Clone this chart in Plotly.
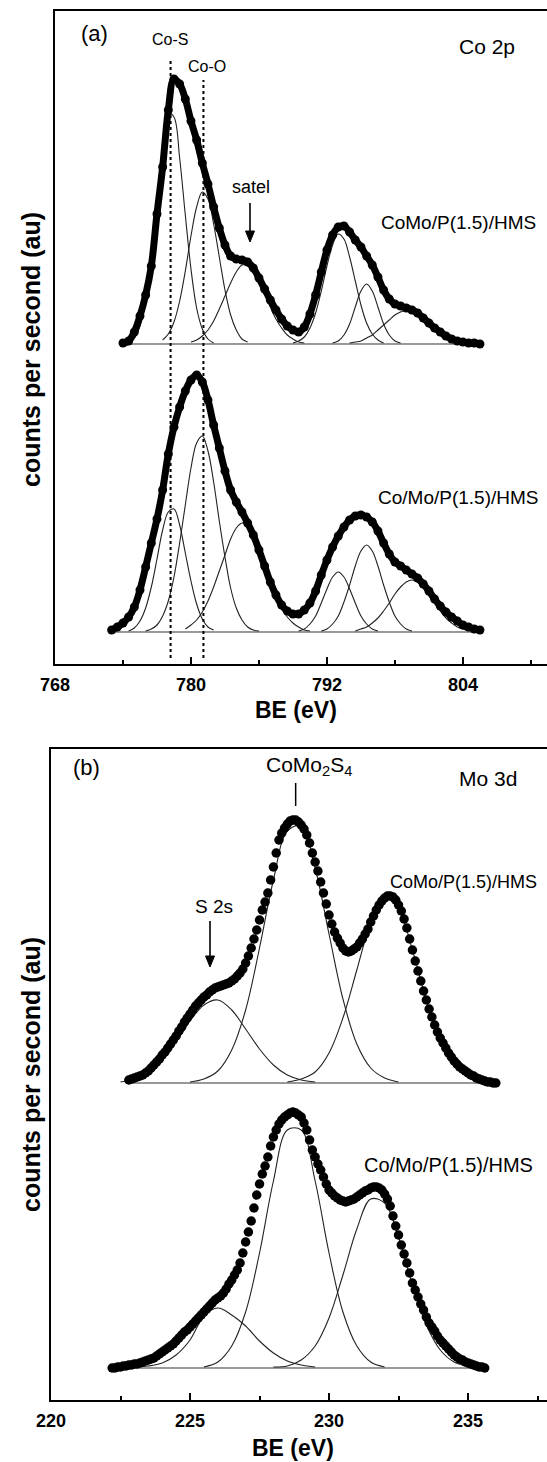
import plotly.graph_objects as go

W, H = 547, 1462
FONT = "Liberation Sans, Arial, sans-serif"

# ---------------- Panel (a): Co 2p ----------------
CO_TOP_E = [774.0, 774.5, 775.0, 775.5, 776.0, 776.5, 777.0, 777.5, 778.0, 778.5,
            779.0, 779.5, 780.0, 780.5, 781.0, 781.5, 782.0, 782.5, 783.0, 783.5,
            784.0, 784.5, 785.0, 785.5, 786.0, 786.5, 787.0, 787.5, 788.0, 788.5,
            789.0, 789.5, 790.0, 790.5, 791.0, 791.5, 792.0, 792.5, 793.0, 793.5,
            794.0, 794.5, 795.0, 795.5, 796.0, 796.5, 797.0, 797.5, 798.0, 798.5,
            799.0, 799.5, 800.0, 800.5, 801.0, 801.5, 802.0, 802.5, 803.0, 803.5,
            804.0, 804.5, 805.0, 805.5]
CO_TOP_I = [1, 3, 12, 28, 49, 78, 130, 177, 234, 265,
            260, 245, 223, 204, 181, 160, 137, 116, 99, 88,
            85, 84, 82, 76, 66, 55, 44, 34, 25, 18,
            14, 12, 17, 30, 49, 72, 94, 109, 117, 118,
            112, 104, 97, 88, 79, 67, 54, 45, 40, 38,
            36, 34, 31, 26, 21, 16, 12, 8, 5, 3,
            2, 1, 1, 0]
CO_BOT_E = [773.0, 773.5] + CO_TOP_E
CO_BOT_I = [2, 5, 9, 15, 25, 42, 65, 89, 113, 142,
            178, 205, 225, 241, 252, 257, 250, 232, 207, 184,
            161, 142, 130, 120, 109, 97, 82, 66, 50, 37,
            27, 21, 18, 18, 22, 29, 41, 57, 72, 85,
            96, 105, 112, 116, 117, 115, 110, 101, 89, 78,
            70, 66, 62, 58, 54, 48, 41, 33, 26, 20,
            15, 11, 7, 5, 3, 2]

# fitted components, panel (a) upper spectrum
CO_T1_E = [774.5, 775.0, 775.5, 776.0, 776.5, 777.0, 777.5, 778.0, 778.5, 779.0, 779.5, 780.0, 780.5, 781.0, 781.5, 782.0]
CO_T1_I = [2, 6, 18, 42, 84, 140, 197, 231, 227, 186, 129, 75, 36, 15, 5, 1]
CO_T2_E = [777.5, 778.0, 778.5, 779.0, 779.5, 780.0, 780.5, 781.0, 781.5, 782.0, 782.5, 783.0, 783.5, 784.0, 784.5, 785.0]
CO_T2_I = [4, 10, 22, 43, 73, 108, 137, 152, 145, 120, 87, 54, 29, 14, 5, 2]
CO_T3_E = [780.0, 780.5, 781.0, 781.5, 782.0, 782.5, 783.0, 783.5, 784.0, 784.5, 785.0, 785.5, 786.0, 786.5, 787.0, 787.5, 788.0, 788.5, 789.0, 789.5, 790.0]
CO_T3_I = [2, 4, 8, 14, 23, 35, 48, 61, 72, 79, 79, 74, 64, 50, 37, 25, 16, 9, 5, 2, 1]
CO_T4_E = [789.0, 789.5, 790.0, 790.5, 791.0, 791.5, 792.0, 792.5, 793.0, 793.5, 794.0, 794.5, 795.0, 795.5, 796.0, 796.5, 797.0]
CO_T4_I = [1, 3, 7, 16, 31, 53, 78, 99, 110, 105, 87, 63, 39, 21, 10, 4, 1]
CO_T5_E = [792.5, 793.0, 793.5, 794.0, 794.5, 795.0, 795.5, 796.0, 796.5, 797.0, 797.5, 798.0, 798.5]
CO_T5_I = [1, 3, 9, 20, 37, 53, 60, 53, 37, 20, 9, 3, 1]
CO_T6_E = [794.0, 794.5, 795.0, 795.5, 796.0, 796.5, 797.0, 797.5, 798.0, 798.5, 799.0, 799.5, 800.0, 800.5, 801.0, 801.5, 802.0, 802.5, 803.0, 803.5, 804.0]
CO_T6_I = [1, 2, 3, 6, 9, 14, 19, 24, 29, 32, 34, 33, 30, 26, 21, 15, 11, 7, 4, 2, 1]

# fitted components, panel (a) lower spectrum
CO_B1_E = [774.5, 775.0, 775.5, 776.0, 776.5, 777.0, 777.5, 778.0, 778.5, 779.0, 779.5, 780.0, 780.5, 781.0, 781.5, 782.0]
CO_B1_I = [1, 4, 11, 24, 45, 73, 102, 120, 123, 107, 79, 51, 28, 13, 5, 2]
CO_B2_E = [776.0, 776.5, 777.0, 777.5, 778.0, 778.5, 779.0, 779.5, 780.0, 780.5, 781.0, 781.5, 782.0, 782.5, 783.0, 783.5, 784.0, 784.5, 785.0, 785.5, 786.0]
CO_B2_I = [1, 3, 7, 16, 31, 55, 89, 127, 164, 189, 196, 181, 150, 111, 75, 44, 24, 12, 5, 2, 1]
CO_B3_E = [779.5, 780.0, 780.5, 781.0, 781.5, 782.0, 782.5, 783.0, 783.5, 784.0, 784.5, 785.0, 785.5, 786.0, 786.5, 787.0, 787.5, 788.0, 788.5, 789.0, 789.5, 790.0, 790.5]
CO_B3_I = [3, 7, 12, 20, 31, 45, 61, 77, 93, 104, 109, 107, 98, 84, 68, 51, 36, 24, 15, 9, 5, 2, 1]
CO_B4_E = [789.5, 790.0, 790.5, 791.0, 791.5, 792.0, 792.5, 793.0, 793.5, 794.0, 794.5, 795.0, 795.5, 796.0, 796.5]
CO_B4_I = [1, 3, 8, 16, 29, 43, 55, 60, 55, 43, 29, 16, 8, 3, 1]
CO_B5_E = [791.5, 792.0, 792.5, 793.0, 793.5, 794.0, 794.5, 795.0, 795.5, 796.0, 796.5, 797.0, 797.5, 798.0, 798.5, 799.0, 799.5]
CO_B5_I = [1, 3, 8, 16, 30, 47, 66, 81, 87, 81, 66, 47, 30, 16, 8, 3, 1]
CO_B6_E = [794.5, 795.0, 795.5, 796.0, 796.5, 797.0, 797.5, 798.0, 798.5, 799.0, 799.5, 800.0, 800.5, 801.0, 801.5, 802.0, 802.5, 803.0, 803.5, 804.0, 804.5]
CO_B6_I = [1, 3, 5, 9, 14, 21, 29, 38, 45, 50, 52, 50, 45, 38, 29, 21, 14, 9, 5, 3, 1]

CO_REF_E = [778.2, 781.1]          # Co-S, Co-O
CO_TICKS = [768, 780, 792, 804]

# ---------------- Panel (b): Mo 3d ----------------
MO_E = [222.2, 222.3, 222.4, 222.5, 222.6, 222.7, 222.8, 222.9, 223.0, 223.1,
        223.2, 223.3, 223.4, 223.5, 223.6, 223.7, 223.8, 223.9, 224.0, 224.1,
        224.2, 224.3, 224.4, 224.5, 224.6, 224.7, 224.8, 224.9, 225.0, 225.1,
        225.2, 225.3, 225.4, 225.5, 225.6, 225.7, 225.8, 225.9, 226.0, 226.1,
        226.2, 226.3, 226.4, 226.5, 226.6, 226.7, 226.8, 226.9, 227.0, 227.1,
        227.2, 227.3, 227.4, 227.5, 227.6, 227.7, 227.8, 227.9, 228.0, 228.1,
        228.2, 228.3, 228.4, 228.5, 228.6, 228.7, 228.8, 228.9, 229.0, 229.1,
        229.2, 229.3, 229.4, 229.5, 229.6, 229.7, 229.8, 229.9, 230.0, 230.1,
        230.2, 230.3, 230.4, 230.5, 230.6, 230.7, 230.8, 230.9, 231.0, 231.1,
        231.2, 231.3, 231.4, 231.5, 231.6, 231.7, 231.8, 231.9, 232.0, 232.1,
        232.2, 232.3, 232.4, 232.5, 232.6, 232.7, 232.8, 232.9, 233.0, 233.1,
        233.2, 233.3, 233.4, 233.5, 233.6, 233.7, 233.8, 233.9, 234.0, 234.1,
        234.2, 234.3, 234.4, 234.5, 234.6, 234.7, 234.8, 234.9, 235.0, 235.1,
        235.2, 235.3, 235.4, 235.5, 235.6, 235.7, 235.8, 235.9, 236.0]
MO_TOP_E = MO_E[6:]        # 222.8 ... 236.0
MO_TOP_I = [3, 4, 5, 6, 7, 8, 10, 12, 15, 18,
            21, 24, 28, 31, 35, 39, 43, 47, 52, 56,
            61, 65, 69, 73, 77, 80, 83, 86, 88, 91,
            93, 95, 96, 97, 98, 99, 100, 102, 104, 107,
            110, 114, 120, 127, 135, 144, 153, 163, 173, 181,
            190, 203, 216, 230, 243, 250, 255, 259, 262, 263,
            263, 261, 258, 254, 248, 240, 230, 221, 212, 201,
            190, 179, 168, 159, 151, 145, 140, 135, 132, 131,
            132, 134, 136, 140, 144, 149, 154, 161, 167, 173,
            178, 182, 185, 187, 187, 186, 183, 178, 172, 164,
            155, 144, 133, 122, 112, 102, 92, 83, 74, 66,
            58, 51, 45, 40, 35, 30, 26, 22, 19, 16,
            14, 12, 10, 8, 7, 5, 4, 3, 2, 1,
            1, 0, 0]
MO_BOT_E = MO_E[:135]      # 222.2 ... 235.6
MO_BOT_I = [0, 0, 1, 1, 2, 2, 3, 3, 4, 4,
            5, 6, 7, 8, 9, 10, 12, 14, 16, 18,
            20, 22, 24, 27, 30, 33, 36, 38, 41, 44,
            47, 50, 53, 56, 59, 62, 65, 68, 70, 72,
            75, 79, 84, 88, 93, 98, 105, 115, 126, 136,
            147, 160, 173, 184, 194, 202, 211, 222, 231, 238,
            244, 248, 251, 253, 255, 256, 255, 253, 251, 245,
            238, 228, 218, 211, 204, 198, 191, 184, 178, 175,
            172, 170, 168, 167, 166, 167, 168, 169, 171, 173,
            175, 177, 178, 180, 181, 181, 180, 178, 174, 169,
            162, 152, 142, 133, 123, 114, 105, 95, 85, 78,
            71, 64, 58, 51, 45, 41, 37, 32, 28, 25,
            22, 19, 16, 13, 11, 9, 8, 6, 5, 4,
            3, 2, 1, 1, 0]

MO_T1_E = [222.5, 223.0, 223.5, 224.0, 224.5, 225.0, 225.5, 226.0, 226.5, 227.0, 227.5, 228.0, 228.5, 229.0, 229.5]
MO_T1_I = [1, 4, 11, 23, 41, 62, 78, 83, 73, 54, 34, 18, 8, 3, 1]
MO_T2_E = [225.0, 225.5, 226.0, 226.5, 227.0, 227.5, 228.0, 228.5, 229.0, 229.5, 230.0, 230.5, 231.0, 231.5, 232.0, 232.5]
MO_T2_I = [1, 4, 12, 33, 73, 135, 203, 252, 257, 215, 149, 84, 39, 15, 5, 1]
MO_T3_E = [228.5, 229.0, 229.5, 230.0, 230.5, 231.0, 231.5, 232.0, 232.5, 233.0, 233.5, 234.0, 234.5, 235.0, 235.5]
MO_T3_I = [1, 4, 11, 30, 65, 113, 160, 185, 174, 133, 83, 42, 17, 6, 1]

MO_B1_E = [223.0, 223.5, 224.0, 224.5, 225.0, 225.5, 226.0, 226.5, 227.0, 227.5, 228.0, 228.5, 229.0, 229.5]
MO_B1_I = [1, 2, 5, 13, 28, 52, 60, 53, 42, 27, 15, 7, 3, 1]
MO_B2_E = [225.5, 226.0, 226.5, 227.0, 227.5, 228.0, 228.5, 229.0, 229.5, 230.0, 230.5, 231.0, 231.5, 232.0]
MO_B2_I = [1, 6, 22, 56, 115, 187, 238, 238, 187, 115, 56, 22, 6, 1]
MO_B3_E = [228.0, 228.5, 229.0, 229.5, 230.0, 230.5, 231.0, 231.5, 232.0, 232.5, 233.0, 233.5, 234.0, 234.5, 235.0]
MO_B3_I = [1, 2, 8, 22, 50, 93, 139, 169, 165, 131, 83, 43, 18, 6, 2]

MO_REF_E = [228.8]                 # CoMo2S4
MO_TICKS = [220, 225, 230, 235]

X_TITLE = "BE (eV)"
Y_TITLE = "counts per second (au)"

# vertical offsets of stacked spectra (plot units)
OFF_A = (320, 32)
OFF_B = (317, 32)

fig = go.Figure()


def add_spectrum(xa, ya, E, I, off, comps, env_mode):
    fig.add_trace(go.Scatter(x=[E[0], E[-1]], y=[off, off], mode="lines",
                             line=dict(color="#333333", width=1.2),
                             xaxis=xa, yaxis=ya, hoverinfo="skip"))
    for ce, ci in comps:
        fig.add_trace(go.Scatter(x=ce, y=[off + v for v in ci], mode="lines",
                                 line=dict(color="#222222", width=1.1, shape="spline"),
                                 xaxis=xa, yaxis=ya, hoverinfo="skip"))
    if env_mode == "thick":
        fig.add_trace(go.Scatter(x=E, y=[off + v for v in I], mode="lines+markers",
                                 line=dict(color="black", width=7, shape="spline"),
                                 marker=dict(color="black", size=9),
                                 xaxis=xa, yaxis=ya))
    else:
        fig.add_trace(go.Scatter(x=E, y=[off + v for v in I], mode="markers",
                                 marker=dict(color="black", size=9.5),
                                 xaxis=xa, yaxis=ya))


add_spectrum("x", "y", CO_TOP_E, CO_TOP_I, OFF_A[0],
             [(CO_T1_E, CO_T1_I), (CO_T2_E, CO_T2_I), (CO_T3_E, CO_T3_I),
              (CO_T4_E, CO_T4_I), (CO_T5_E, CO_T5_I), (CO_T6_E, CO_T6_I)], "thick")
add_spectrum("x", "y", CO_BOT_E, CO_BOT_I, OFF_A[1],
             [(CO_B1_E, CO_B1_I), (CO_B2_E, CO_B2_I), (CO_B3_E, CO_B3_I),
              (CO_B4_E, CO_B4_I), (CO_B5_E, CO_B5_I), (CO_B6_E, CO_B6_I)], "thick")
add_spectrum("x2", "y2", MO_TOP_E, MO_TOP_I, OFF_B[0],
             [(MO_T1_E, MO_T1_I), (MO_T2_E, MO_T2_I), (MO_T3_E, MO_T3_I)], "dots")
add_spectrum("x2", "y2", MO_BOT_E, MO_BOT_I, OFF_B[1],
             [(MO_B1_E, MO_B1_I), (MO_B2_E, MO_B2_I), (MO_B3_E, MO_B3_I)], "dots")


def py2paper(py):
    return 1 - py / H


tickfont = dict(family=FONT, size=18, color="black", weight="bold")
common_x = dict(showline=True, linewidth=2, linecolor="black", mirror=True,
                ticks="inside", ticklen=7, tickwidth=1.5, tickcolor="black",
                showgrid=False, zeroline=False, tickfont=tickfont,
                ticklabelstandoff=3, automargin=False)
common_y = dict(showline=True, linewidth=2, linecolor="black", mirror=False,
                ticks="", showticklabels=False, showgrid=False, zeroline=False,
                automargin=False)

fig.update_layout(
    width=W, height=H, margin=dict(l=0, r=0, t=0, b=0),
    plot_bgcolor="white", paper_bgcolor="white", showlegend=False,
    xaxis=dict(domain=[55 / W, 1], range=[768, 811.42], anchor="y",
               tickvals=CO_TICKS, minor=dict(dtick=6, tick0=768, ticks="inside", ticklen=4,
                                             tickwidth=1.5, tickcolor="black"),
               **common_x),
    yaxis=dict(domain=[py2paper(664), py2paper(10.5)], range=[0, 653.5], anchor="x", **common_y),
    xaxis2=dict(domain=[51 / W, 1], range=[220, 237.84], anchor="y2",
                tickvals=MO_TICKS, minor=dict(dtick=2.5, tick0=220, ticks="inside", ticklen=4,
                                              tickwidth=1.5, tickcolor="black"),
                **common_x),
    yaxis2=dict(domain=[py2paper(1400), py2paper(749)], range=[0, 651], anchor="x2", **common_y),
)

# reference lines
for e, top in zip(CO_REF_E, [61, 80]):
    fig.add_shape(type="line", xref="x", yref="paper", x0=e, x1=e,
                  y0=py2paper(658), y1=py2paper(top),
                  line=dict(color="black", width=2, dash="dot"))
fig.add_shape(type="line", xref="x2", yref="paper", x0=MO_REF_E[0], x1=MO_REF_E[0],
              y0=py2paper(806), y1=py2paper(783), line=dict(color="black", width=1.5))


def txt(px, py, text, size, bold=False, angle=0):
    fig.add_annotation(x=px / W, y=py2paper(py), xref="paper", yref="paper",
                       text=text, showarrow=False, textangle=angle,
                       xanchor="center", yanchor="middle",
                       font=dict(family=FONT, size=size, color="black",
                                 weight="bold" if bold else "normal"))


def arrow(px, py_tail, py_head):
    fig.add_shape(type="line", xref="paper", yref="paper",
                  x0=px / W, x1=px / W, y0=py2paper(py_tail), y1=py2paper(py_head - 8),
                  line=dict(color="black", width=1.6))
    hx, hw = px / W, 4.5 / W
    fig.add_shape(type="path", xref="paper", yref="paper",
                  path=(f"M {hx - hw},{py2paper(py_head - 11)} L {hx + hw},{py2paper(py_head - 11)} "
                        f"L {hx},{py2paper(py_head)} Z"),
                  fillcolor="black", line=dict(color="black", width=1))


# panel (a) texts
txt(94, 33, "(a)", 22)
txt(170, 39, "Co-S", 16)
txt(207, 66, "Co-O", 16)
txt(487, 47, "Co 2p", 21)
txt(251, 187, "satel", 18)
arrow(250, 203, 242)
txt(458, 223, "CoMo/P(1.5)/HMS", 19)
txt(458, 497, "Co/Mo/P(1.5)/HMS", 19)
txt(296, 710, X_TITLE, 23, bold=True)
txt(31, 350, Y_TITLE, 25, bold=True, angle=-90)

# panel (b) texts
txt(86, 767, "(b)", 22)
txt(309, 766, "CoMo<sub>2</sub>S<sub>4</sub>", 21)
txt(488, 778, "Mo 3d", 21)
txt(214, 906, "S 2s", 19)
arrow(210, 921, 967)
txt(463, 882, "CoMo/P(1.5)/HMS", 18)
txt(448, 1165, "Co/Mo/P(1.5)/HMS", 20)
txt(293, 1448, X_TITLE, 23, bold=True)
txt(31, 1075, Y_TITLE, 25, bold=True, angle=-90)

fig.write_html("out.html")
